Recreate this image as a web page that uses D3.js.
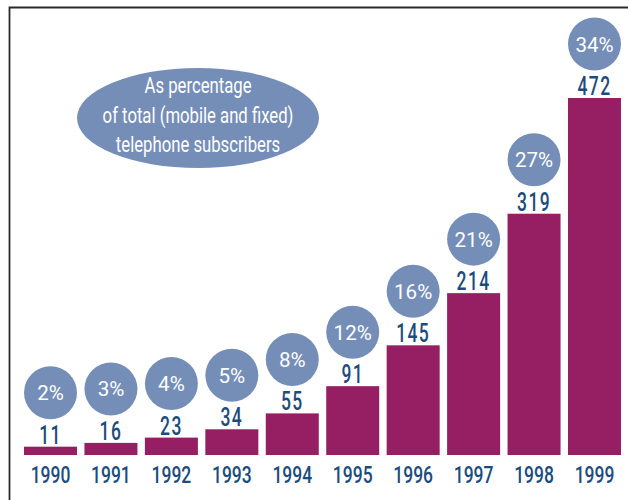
<!DOCTYPE html>
<html>
<head>
<meta charset="utf-8">
<script src="https://cdn.jsdelivr.net/npm/d3@7"></script>
<style>
  body { margin: 0; background: #fff; }
  text { font-family: Roboto, "Liberation Sans", Arial, sans-serif; font-weight: 500; }
</style>
</head>
<body>
<div class="chart"></div>
<script>
// Data.
const years = ['1990', '1991', '1992', '1993', '1994', '1995', '1996', '1997', '1998', '1999'];
const subscribers = [11, 16, 23, 34, 55, 91, 145, 214, 319, 472];
const shares = ['2%', '3%', '4%', '5%', '8%', '12%', '16%', '21%', '27%', '34%'];
const noteLines = ['As percentage', 'of total (mobile and fixed)', 'telephone subscribers'];

const rows = years.map((y, i) => ({ year: y, value: subscribers[i], share: shares[i] }));

const width = 628, height = 500;
const barColor = '#961f63';
const bubbleColor = '#758eb8';
const textColor = '#1b4c7d';

const svg = d3.select('.chart')
  .append('svg')
  .attr('width', width)
  .attr('height', height);

// Frame.
svg.append('path')
  .attr('d', `M9.5,${height}V7.5H${width}`)
  .attr('fill', 'none')
  .attr('stroke', '#2b2b2b')
  .attr('stroke-width', 1.8);

// Scales.
const xScale = d3.scaleBand()
  .domain(years)
  .range([24, 621])
  .paddingInner(0.123)
  .paddingOuter(0);

const yScale = d3.scaleLinear()
  .domain([0, 472])
  .range([455, 98]);

const cx = d => xScale(d.year) + xScale.bandwidth() / 2;

// Bars.
svg.append('g')
  .selectAll('rect')
  .data(rows)
  .join('rect')
  .attr('x', d => xScale(d.year))
  .attr('y', d => yScale(d.value))
  .attr('width', xScale.bandwidth())
  .attr('height', d => yScale(0) - yScale(d.value))
  .attr('fill', barColor);

// Value labels (squeezed to look condensed).
svg.append('g')
  .selectAll('text')
  .data(rows)
  .join('text')
  .attr('text-anchor', 'middle')
  .attr('transform', d => `translate(${cx(d)},${yScale(d.value) - 3}) scale(0.7,1)`)
  .attr('font-size', 25)
  .attr('letter-spacing', 2)
  .attr('fill', textColor)
  .text(d => d.value);

// Share bubbles.
const bubbles = svg.append('g')
  .selectAll('g')
  .data(rows)
  .join('g')
  .attr('transform', d => `translate(${cx(d)},${yScale(d.value) - 54})`);

bubbles.append('circle')
  .attr('r', 26.5)
  .attr('fill', bubbleColor);

bubbles.append('text')
  .attr('text-anchor', 'middle')
  .attr('transform', 'translate(0,7.5) scale(0.98,1)')
  .attr('font-size', 21)
  .style('font-weight', 400)
  .attr('fill', '#fff')
  .text(d => d.share);

// Year axis.
const xAxis = d3.axisBottom(xScale).tickSize(0).tickPadding(0);
const xAxisDraw = svg.append('g')
  .attr('transform', 'translate(0,483)')
  .call(xAxis);
xAxisDraw.select('.domain').remove();
xAxisDraw.attr('font-family', null).attr('font-size', null);
xAxisDraw.selectAll('text')
  .attr('dy', 0)
  .attr('y', 0)
  .attr('transform', 'scale(0.76,1)')
  .attr('font-size', 23)
  .attr('fill', textColor);

// Note ellipse.
const note = svg.append('g').attr('transform', 'translate(198,118)');
note.append('ellipse')
  .attr('rx', 121)
  .attr('ry', 50)
  .attr('fill', bubbleColor);
note.selectAll('text')
  .data(noteLines)
  .join('text')
  .attr('text-anchor', 'middle')
  .attr('transform', (d, i) => `translate(0,${-25 + i * 29.5}) scale(0.76,1)`)
  .attr('font-size', 22)
  .style('font-weight', 400)
  .attr('fill', '#fff')
  .text(d => d);
</script>
</body>
</html>
